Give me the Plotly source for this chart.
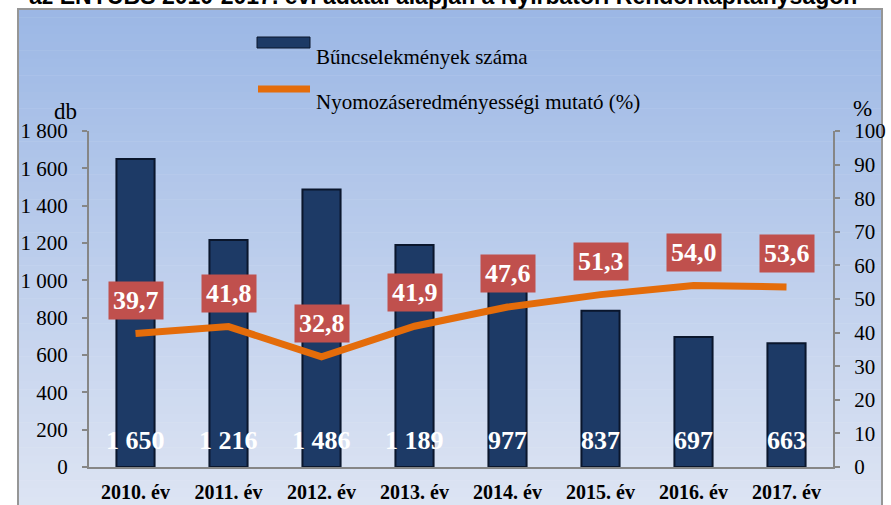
import plotly.graph_objects as go

categories = ["2010. év", "2011. év", "2012. év", "2013. év", "2014. év", "2015. év", "2016. év", "2017. év"]
crimes = [1650, 1216, 1486, 1189, 977, 837, 697, 663]
rate = [39.7, 41.8, 32.8, 41.9, 47.6, 51.3, 54.0, 53.6]
bar_name = "Bűncselekmények száma"
line_name = "Nyomozáseredményességi mutató (%)"
title_text = "az ENYÜBS 2010-2017. évi adatai alapján a Nyírbátori Rendőrkapitányságon"

W, H = 891, 505
L, R, T, B = 89, 833, 131, 467

def px_x(p):
    return (p - L) / (R - L)

def px_y(p):
    return (B - p) / (B - T)

serif = "Liberation Serif"

fig = go.Figure()
fig.add_trace(go.Bar(
    x=categories, y=crimes, name=bar_name,
    marker=dict(color="rgb(29,58,102)", line=dict(color="rgb(10,22,44)", width=2)),
    width=0.41, showlegend=False, hoverinfo="skip",
))
fig.add_trace(go.Scatter(
    x=categories, y=rate, name=line_name, yaxis="y2", mode="lines",
    line=dict(color="#E46C0A", width=7), showlegend=False, hoverinfo="skip",
))

annotations = []
for c, v in zip(categories, crimes):
    s = f"{v:,}".replace(",", " ")
    annotations.append(dict(x=c, y=0, xref="x", yref="y", text=s, showarrow=False,
                            yanchor="bottom", yshift=10,
                            font=dict(family=serif, size=26, color="white", weight="bold")))
for c, v in zip(categories, rate):
    s = f"{v:.1f}".replace(".", ",")
    annotations.append(dict(x=c, y=v, xref="x", yref="y2", text=s, showarrow=False,
                            yanchor="bottom", yshift=14, bgcolor="#C0504D", borderpad=4,
                            font=dict(family=serif, size=26, color="white", weight="bold")))

# axis unit labels
annotations.append(dict(x=px_x(52), y=px_y(97), xref="paper", yref="paper", text="db", showarrow=False,
                        font=dict(family=serif, size=23, color="black")))
annotations.append(dict(x=px_x(874), y=px_y(94), xref="paper", yref="paper", text="%", showarrow=False,
                        font=dict(family=serif, size=23, color="black")))
# legend texts
annotations.append(dict(x=px_x(314), y=px_y(43), xref="paper", yref="paper", text=bar_name, showarrow=False,
                        xanchor="left", font=dict(family=serif, size=21, color="black")))
annotations.append(dict(x=px_x(314), y=px_y(88), xref="paper", yref="paper", text=line_name, showarrow=False,
                        xanchor="left", font=dict(family=serif, size=21, color="black")))
# clipped title
annotations.append(dict(x=px_x(443), y=px_y(11), xref="paper", yref="paper", text=title_text, showarrow=False,
                        yanchor="bottom", font=dict(family="Liberation Sans", size=23, color="black", weight="bold")))

shapes = []
# gradient background
x0, x1 = px_x(18), px_x(882)
top_c = (155, 183, 229)
bot_c = (221, 228, 243)
N = 60
y_top, y_bot = 9, 505
for i in range(N):
    a = y_top + (y_bot - y_top) * i / N
    b = y_top + (y_bot - y_top) * (i + 1) / N + 0.5
    t = (i + 0.5) / N
    col = tuple(round(top_c[k] + (bot_c[k] - top_c[k]) * t) for k in range(3))
    shapes.append(dict(type="rect", xref="paper", yref="paper", x0=x0, x1=x1, y0=px_y(b), y1=px_y(a),
                       fillcolor=f"rgb{col}", line=dict(width=0), layer="below"))
# border
shapes.append(dict(type="rect", xref="paper", yref="paper", x0=x0, x1=x1, y0=px_y(510), y1=px_y(9),
                   fillcolor="rgba(0,0,0,0)", line=dict(color="rgb(150,150,150)", width=2), layer="below"))
# legend swatches
shapes.append(dict(type="rect", xref="paper", yref="paper", x0=px_x(257), x1=px_x(310), y0=px_y(48), y1=px_y(37),
                   fillcolor="rgb(29,58,102)", line=dict(color="rgb(10,22,44)", width=1), layer="above"))
shapes.append(dict(type="line", xref="paper", yref="paper", x0=px_x(258), x1=px_x(310), y0=px_y(89), y1=px_y(89),
                   line=dict(color="#E46C0A", width=7), layer="above"))

axis_col = "rgb(134,134,134)"
fig.update_layout(
    template="none",
    width=W, height=H,
    margin=dict(l=L, r=W - R, t=T, b=H - B, pad=0, autoexpand=False),
    paper_bgcolor="white", plot_bgcolor="rgba(0,0,0,0)",
    separators=", ",
    xaxis=dict(showgrid=False, showline=True, linecolor=axis_col, linewidth=2, ticks="", automargin=False,
               ticklabelstandoff=6,
               tickfont=dict(family=serif, size=20, color="black", weight="bold"), fixedrange=True),
    yaxis=dict(range=[0, 1800], dtick=200, showgrid=False, showline=True, linecolor=axis_col, linewidth=2,
               ticks="outside", ticklen=5, tickcolor=axis_col, tickwidth=2, ticklabelstandoff=10,
               automargin=False, tickformat=",d", tickfont=dict(family=serif, size=21, color="black"),
               zeroline=False),
    yaxis2=dict(range=[0, 100], dtick=10, overlaying="y", side="right", showgrid=False, showline=True,
                linecolor=axis_col, linewidth=2, ticks="outside", ticklen=5, tickcolor=axis_col, tickwidth=2,
                ticklabelstandoff=10, automargin=False, tickfont=dict(family=serif, size=21, color="black"),
                zeroline=False),
    annotations=annotations, shapes=shapes, showlegend=False,
)
fig.write_html("out.html", config={"displayModeBar": False},
               post_script="document.body.style.margin='0';document.body.style.overflow='hidden';")
